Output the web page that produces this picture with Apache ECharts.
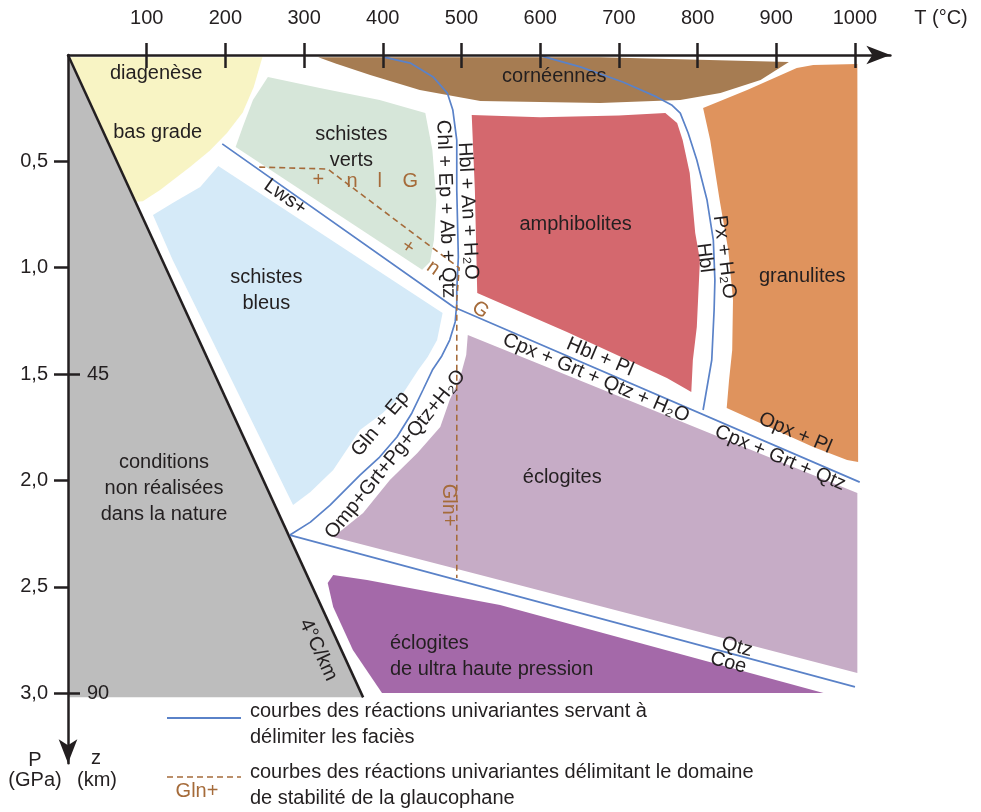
<!DOCTYPE html>
<html>
<head>
<meta charset="utf-8">
<script src="https://cdn.jsdelivr.net/npm/echarts@6/dist/echarts.min.js"></script>
<style>
  html, body { margin: 0; background: #fff; }
  #facies { width: 981px; height: 812px; }
</style>
</head>
<body>
<div id="facies"></div>
<script>
// axes ticks
const tempTicks = [100, 200, 300, 400, 500, 600, 700, 800, 900, 1000];
const pressTicks = [0.5, 1.0, 1.5, 2.0, 2.5, 3.0];
const depthTicks = [45, 90];

// facies fields, points as [T (°C), P (GPa)]
const nonNatural = [[0, 0], [375, 3.02], [0, 3.02]];
const diagenese = [[3, 0.01], [247, 0.01], [236, 0.15], [222, 0.27], [202, 0.367], [180, 0.45],
  [155, 0.527], [117, 0.635], [95, 0.688], [86, 0.69]];
const corneennes = [[318, 0.01], [676, 0.01], [916, 0.033], [880, 0.118], [829, 0.179], [778, 0.212],
  [676, 0.226], [524, 0.216], [447, 0.165], [384, 0.094], [340, 0.04]];
const schistesVerts = [[254, 0.103], [320, 0.155], [396, 0.212], [454, 0.273], [463, 0.447], [468, 0.682],
  [465, 0.87], [460, 0.973], [450, 1.01], [213, 0.433], [222, 0.339], [235, 0.212]];
const schistesBleus = [[191, 0.522], [476, 1.213], [469, 1.34], [457, 1.42], [445, 1.481], [426, 1.589],
  [400, 1.683], [371, 1.763], [337, 1.951], [308, 2.055], [286, 2.116], [133, 0.964], [108, 0.752],
  [133, 0.696], [168, 0.621]];
const amphibolites = [[513, 0.282], [600, 0.293], [700, 0.285], [759, 0.273], [774, 0.32], [781, 0.4],
  [790, 0.555], [797, 0.837], [803, 0.964], [801, 1.119], [799, 1.279], [794, 1.434], [792, 1.584],
  [781, 1.561], [761, 1.519], [634, 1.302], [520, 1.119], [517, 0.635]];
const granulites = [[807, 0.249], [863, 0.165], [926, 0.061], [947, 0.047], [1003, 0.042], [1004, 1.913],
  [990, 1.904], [947, 1.843], [837, 1.66], [840, 1.528], [844, 1.387], [845, 1.152], [839, 0.917],
  [828, 0.682], [816, 0.4]];
const eclogites = [[508, 1.316], [1003, 2.059], [1003, 2.906], [524, 2.445], [337, 2.266], [375, 2.153],
  [409, 1.998], [444, 1.871], [473, 1.749], [485, 1.622], [498, 1.519], [506, 1.41]];
const eclogitesUHP = [[337, 2.445], [380, 2.468], [549, 2.586], [960, 3.0], [399, 3.0], [362, 2.797],
  [337, 2.595], [330, 2.482]];

// reaction curves
const geotherm4 = [[0, 0], [375, 3.02]];
const lwsCpxCurve = [[196, 0.418], [490, 1.185], [1006, 2.008]];
const chlHblGlnCurve = [[400, 0.009], [435, 0.038], [464, 0.103], [482, 0.179], [489, 0.259], [494, 0.4],
  [494, 0.635], [496, 0.95], [494, 1.105], [494, 1.166], [492, 1.255], [485, 1.34], [475, 1.415],
  [463, 1.481], [451, 1.575], [437, 1.683], [418, 1.796], [396, 1.89], [371, 1.975], [333, 2.116],
  [308, 2.196], [282, 2.257]];
const qtzCoeCurve = [[282, 2.257], [1000, 2.971]];
const hblPxCurve = [[602, 0.005], [651, 0.056], [705, 0.127], [748, 0.197], [767, 0.235], [778, 0.273],
  [788, 0.367], [799, 0.494], [812, 0.682], [820, 0.87], [822, 1.058], [821, 1.199], [818, 1.434], [807, 1.669]];
const glnCurve = [[243, 0.527], [330, 0.536], [497, 1.001], [494, 1.152], [494, 2.459]];

// text in the diagram: [text, T, P, rotation°, align]
const fieldNames = [
  ['diagenèse', 112, 0.085, 0],
  ['bas grade', 114, 0.362, 0],
  ['schistes\nverts', 360, 0.433, 0],
  ['schistes\nbleus', 252, 1.105, 0],
  ['cornéennes', 618, 0.103, 0],
  ['amphibolites', 645, 0.799, 0],
  ['granulites', 933, 1.039, 0],
  ['éclogites', 628, 1.984, 0],
  ['éclogites\nde ultra haute pression', 409, 2.83, 0, 'left'],
  ['conditions\nnon réalisées\ndans la nature', 122, 2.04, 0],
  ['4°C/km', 318, 2.797, -65],
  ['Lws+', 276, 0.668, -35],
  ['Chl + Ep + Ab + Qtz', 480, 0.724, -88],
  ['Hbl + An + H₂O', 508, 0.733, -87],
  ['Px + H₂O', 834, 0.95, -83],
  ['Hbl', 809, 0.954, -83],
  ['Hbl + Pl', 676, 1.42, -23],
  ['Cpx + Grt + Qtz + H₂O', 671, 1.519, -23],
  ['Opx + Pl', 924, 1.777, -23],
  ['Cpx + Grt + Qtz', 905, 1.895, -23],
  ['Gln + Ep', 397, 1.735, 50],
  ['Omp+Grt+Pg+Qtz+H₂O', 416, 1.878, 51],
  ['Qtz', 850, 2.783, -15],
  ['Coe', 839, 2.858, -15]
];
const glnMarks = [
  ['+', 318, 0.588, 0], ['n', 361, 0.597, 0], ['l', 396, 0.597, 0], ['G', 435, 0.597, 0],
  ['+', 432, 0.903, -35], ['n', 464, 1.001, -35], ['G', 524, 1.199, -35],
  ['Gln+', 483, 2.116, -90]
];

const ink = '#231f20';
const blueLine = '#5a82c8';
const glnBrown = '#a56b3a';
const FONT = '"Liberation Sans", Arial, "DejaVu Sans", sans-serif';

function field(name, pts, color) {
  return {
    type: 'custom', name: name, silent: true, z: 1,
    data: [[0, 0]],
    renderItem: function (params, api) {
      return {
        type: 'polygon',
        shape: { points: pts.map(function (p) { return api.coord(p); }) },
        style: { fill: color }
      };
    }
  };
}

function curve(name, pts, color, width, dash) {
  return {
    type: 'line', name: name, data: pts, symbol: 'none', silent: true, z: 3,
    lineStyle: { color: color, width: width, type: dash ? [6, 4] : 'solid' }
  };
}

function labels(name, list, color) {
  return {
    type: 'custom', name: name, silent: true, z: 4,
    data: list.map(function (d) { return [d[1], d[2]]; }),
    renderItem: function (params, api) {
      const d = list[params.dataIndex];
      const pt = api.coord([d[1], d[2]]);
      return {
        type: 'text', x: pt[0], y: pt[1], rotation: d[3] * Math.PI / 180,
        style: {
          text: d[0], fill: color, fontSize: 20, fontFamily: FONT,
          align: d[4] || 'center', verticalAlign: 'middle', lineHeight: 26
        }
      };
    }
  };
}

let myChart = echarts.init(document.getElementById('facies'));

let axisLineStyle = { color: ink, width: 2.5 };
let labelStyle = { color: ink, fontSize: 20, fontFamily: FONT };

let option = {
  animation: false,
  backgroundColor: '#fff',
  grid: { left: 68, top: 55, width: 822.4, height: 708.3 },
  xAxis: [
    {
      type: 'value', position: 'top', min: 0, max: 1045, z: 5,
      axisLine: { show: true, onZero: false, lineStyle: axisLineStyle, symbol: ['none', 'arrow'], symbolSize: [14, 24] },
      axisTick: { show: true, inside: true, length: 13, customValues: tempTicks, lineStyle: axisLineStyle },
      axisLabel: { show: false },
      splitLine: { show: false }
    },
    {
      type: 'value', position: 'top', min: 0, max: 1045, z: 5,
      axisLine: { show: false, onZero: false },
      axisTick: { show: true, inside: false, length: 12, customValues: tempTicks, lineStyle: axisLineStyle },
      axisLabel: Object.assign({
        customValues: tempTicks, margin: 27,
        formatter: function (v) { return String(v); }
      }, labelStyle),
      splitLine: { show: false }
    }
  ],
  yAxis: [
    {
      type: 'value', position: 'left', inverse: true, min: 0, max: 3.33, z: 5,
      axisLine: { show: true, onZero: false, lineStyle: axisLineStyle, symbol: ['arrow', 'none'], symbolSize: [14, 24] },
      axisTick: { show: true, length: 14, customValues: pressTicks, lineStyle: axisLineStyle },
      axisLabel: Object.assign({
        customValues: pressTicks, margin: 20,
        formatter: function (v) { return v.toFixed(1).replace('.', ','); }
      }, labelStyle),
      splitLine: { show: false }
    },
    {
      type: 'value', position: 'left', inverse: true, min: 0, max: 99.9, z: 5,
      axisLine: { show: false, onZero: false },
      axisTick: { show: true, inside: true, length: 12, customValues: depthTicks, lineStyle: axisLineStyle },
      axisLabel: Object.assign({ inside: true, customValues: depthTicks, margin: 19 }, labelStyle),
      splitLine: { show: false }
    }
  ],
  series: [
    field('conditions non réalisées', nonNatural, '#bdbdbd'),
    field('diagenèse', diagenese, '#f8f4c4'),
    field('cornéennes', corneennes, '#a67c52'),
    field('schistes verts', schistesVerts, '#d6e6d9'),
    field('schistes bleus', schistesBleus, '#d5eaf8'),
    field('amphibolites', amphibolites, '#d4686e'),
    field('granulites', granulites, '#df935d'),
    field('éclogites', eclogites, '#c6acc6'),
    field('éclogites UHP', eclogitesUHP, '#a469a9'),
    curve('4°C/km', geotherm4, ink, 2.5),
    curve('Lws / Cpx', lwsCpxCurve, blueLine, 1.7),
    curve('Chl / Hbl / Gln', chlHblGlnCurve, blueLine, 1.7),
    curve('Qtz / Coe', qtzCoeCurve, blueLine, 1.7),
    curve('Hbl / Px', hblPxCurve, blueLine, 1.7),
    curve('Gln+', glnCurve, glnBrown, 1.6, true),
    labels('noms', fieldNames, ink),
    labels('Gln', glnMarks, glnBrown)
  ],
  graphic: [
    { type: 'text', x: 941, y: 18, style: { text: 'T (°C)', fill: ink, fontSize: 20, fontFamily: FONT, align: 'center', verticalAlign: 'middle' } },
    { type: 'text', x: 35, y: 760, style: { text: 'P', fill: ink, fontSize: 20, fontFamily: FONT, align: 'center', verticalAlign: 'middle' } },
    { type: 'text', x: 35, y: 780, style: { text: '(GPa)', fill: ink, fontSize: 20, fontFamily: FONT, align: 'center', verticalAlign: 'middle' } },
    { type: 'text', x: 96, y: 758, style: { text: 'z', fill: ink, fontSize: 20, fontFamily: FONT, align: 'center', verticalAlign: 'middle' } },
    { type: 'text', x: 97, y: 780, style: { text: '(km)', fill: ink, fontSize: 20, fontFamily: FONT, align: 'center', verticalAlign: 'middle' } },
    // légende
    { type: 'line', shape: { x1: 167, y1: 718, x2: 241, y2: 718 }, style: { stroke: blueLine, lineWidth: 1.8 } },
    { type: 'text', x: 250, y: 711, style: { text: 'courbes des réactions univariantes servant à', fill: ink, fontSize: 20, fontFamily: FONT, verticalAlign: 'middle' } },
    { type: 'text', x: 250, y: 737, style: { text: 'délimiter les faciès', fill: ink, fontSize: 20, fontFamily: FONT, verticalAlign: 'middle' } },
    { type: 'line', shape: { x1: 167, y1: 777, x2: 241, y2: 777 }, style: { stroke: glnBrown, lineWidth: 1.6, lineDash: [6, 4] } },
    { type: 'text', x: 197, y: 791, style: { text: 'Gln+', fill: glnBrown, fontSize: 20, fontFamily: FONT, align: 'center', verticalAlign: 'middle' } },
    { type: 'text', x: 250, y: 772, style: { text: 'courbes des réactions univariantes délimitant le domaine', fill: ink, fontSize: 20, fontFamily: FONT, verticalAlign: 'middle' } },
    { type: 'text', x: 250, y: 798, style: { text: 'de stabilité de la glaucophane', fill: ink, fontSize: 20, fontFamily: FONT, verticalAlign: 'middle' } }
  ]
};

myChart.setOption(option);
</script>
</body>
</html>
